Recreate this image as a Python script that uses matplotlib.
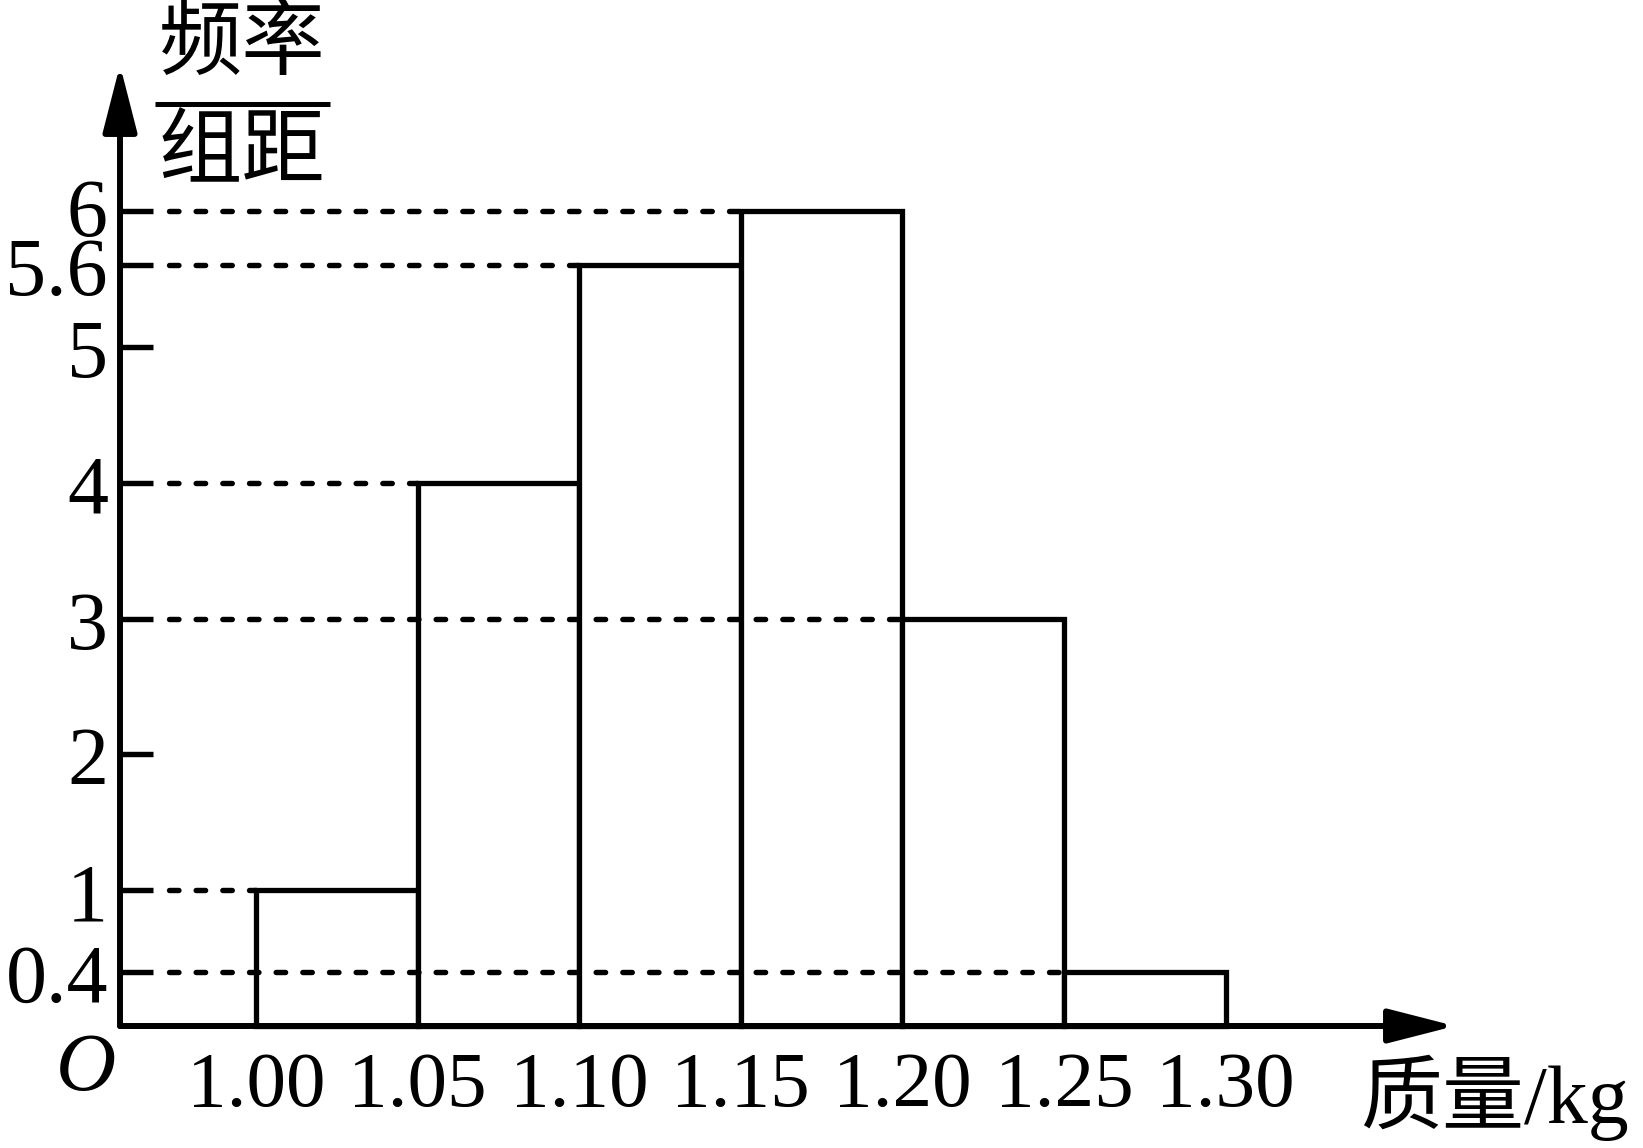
import matplotlib
matplotlib.use("Agg")
import matplotlib.pyplot as plt
from matplotlib.patches import FancyArrowPatch

plt.rcParams['lines.scale_dashes'] = False

# ---- data ----
bin_edges = [1.00, 1.05, 1.10, 1.15, 1.20, 1.25, 1.30]
bin_heights = [1, 4, 5.6, 6, 3, 0.4]
xtick_labels = ['1.00', '1.05', '1.10', '1.15', '1.20', '1.25', '1.30']
ytick_values = [0.4, 1, 2, 3, 4, 5, 5.6, 6]
ytick_labels = ['0.4', '1', '2', '3', '4', '5', '5.6', '6']
ylabel_top = '频率'
ylabel_bottom = '组距'
xlabel = '质量/kg'
origin_label = 'O'

# ---- figure / pixel mapping ----
W, H, DPI = 1643, 1148, 100
fig = plt.figure(figsize=(W / DPI, H / DPI), dpi=DPI)
ax = fig.add_axes([0, 0, 1, 1])
ax.set_axis_off()

KX = 3232.0    # px per x-unit
KY = 135.83    # px per y-unit
X_LEFT = 0.92082
Y_BASE_PX = 1026.0
ax.set_xlim(X_LEFT, X_LEFT + W / KX)
ax.set_ylim(-(H - Y_BASE_PX) / KY, Y_BASE_PX / KY)

def px_x(p):
    return X_LEFT + p / KX

def dy(p):
    return p / KY

x0 = px_x(120)          # y-axis position
bw = bin_edges[1] - bin_edges[0]

serif = ['Liberation Serif', 'DejaVu Serif']
cjk = ['Liberation Serif', 'Noto Sans CJK SC', 'DejaVu Sans']

# bars
ax.bar(bin_edges[:-1], bin_heights, width=bw, align='edge',
       facecolor='white', edgecolor='black', linewidth=3.8, zorder=2)

# dashed guide lines (from tick to left edge of each bar)
dash_start = x0 + 49 / KX
for left, h in zip(bin_edges[:-1], bin_heights):
    ax.plot([dash_start, left], [h, h], color='black', lw=3.9,
            dashes=(6.8, 12.4), dash_capstyle='round', zorder=3)

# axes with arrows
arrow_style = '-|>,head_length=41,head_width=10.5'
ax.add_patch(FancyArrowPatch((x0, 0), (px_x(1455), 0),
                             arrowstyle=arrow_style,
                             mutation_scale=1, shrinkA=0, shrinkB=0,
                             color='black', lw=4.3, zorder=5))
ax.add_patch(FancyArrowPatch((x0, 0), (x0, (Y_BASE_PX - 65) / KY),
                             arrowstyle=arrow_style,
                             mutation_scale=1, shrinkA=0, shrinkB=0,
                             color='black', lw=4.3, zorder=5))

# y ticks and labels
tick_len = 33 / KX
for v, lab in zip(ytick_values, ytick_labels):
    ax.plot([x0, x0 + tick_len], [v, v], color='black', lw=3.9,
            solid_capstyle='butt', zorder=4)
    off = 25 if lab == '6' else 30
    ax.text(px_x(108), v - dy(off), lab, ha='right', va='baseline',
            fontsize=59, family=serif)

# x tick labels
for e, lab in zip(bin_edges, xtick_labels):
    ax.text(e, -dy(80), lab, ha='center', va='baseline',
            fontsize=57, family=serif)

# origin
ax.text(px_x(86), -dy(64), origin_label, ha='center', va='baseline',
        fontsize=60, family=serif, style='italic')

# x axis label
ax.text(px_x(1360), -dy(97), xlabel, ha='left', va='baseline',
        fontsize=59, family=cjk)

# y axis label as fraction
yc = px_x(242)
ax.text(yc, (Y_BASE_PX - 47) / KY, ylabel_top, ha='center', va='center',
        fontsize=60, family=cjk)
ax.text(yc, (Y_BASE_PX - 157) / KY, ylabel_bottom, ha='center', va='center',
        fontsize=60, family=cjk)
ax.plot([px_x(155), px_x(330)], [(Y_BASE_PX - 104) / KY] * 2,
        color='black', lw=3.6, solid_capstyle='butt')

fig.savefig('out.png', dpi=DPI, facecolor='white')
